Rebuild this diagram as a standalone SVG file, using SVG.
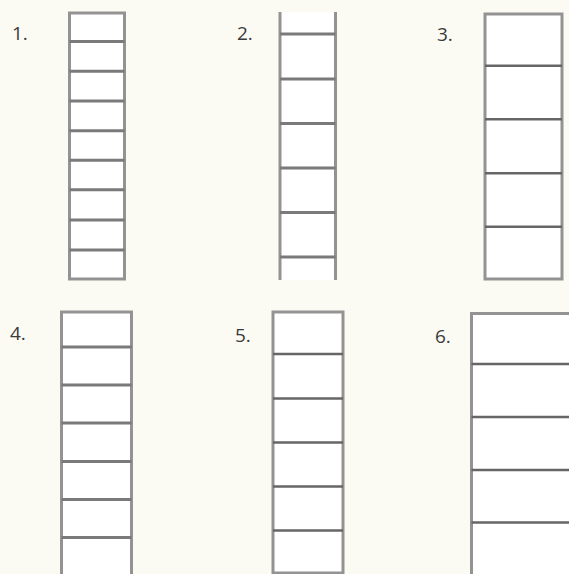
<svg xmlns="http://www.w3.org/2000/svg" width="569" height="574" viewBox="0 0 569 574">
<style>
.rail{fill:#ffffff;stroke:#939393;stroke-width:3}
.side{fill:none;stroke:#939393;stroke-width:3}
.rung{stroke:#7a7a7a;stroke-width:3}
.rung2{stroke:#666666;stroke-width:2.6}
.lbl{font-family:"Open Sans","Noto Sans","Liberation Sans",sans-serif;font-size:19px;fill:#3a3a3a}
</style>
<rect x="0" y="0" width="569" height="574" fill="#fbfaf3"/>
<g id="ladder1">
<text class="lbl" x="12" y="40">1.</text>
<rect class="rail" x="69.5" y="13" width="55" height="266"/>
<g class="rung">
<line x1="69.5" y1="41.5" x2="124.5" y2="41.5"/>
<line x1="69.5" y1="71.3" x2="124.5" y2="71.3"/>
<line x1="69.5" y1="101" x2="124.5" y2="101"/>
<line x1="69.5" y1="130.7" x2="124.5" y2="130.7"/>
<line x1="69.5" y1="160.3" x2="124.5" y2="160.3"/>
<line x1="69.5" y1="189.8" x2="124.5" y2="189.8"/>
<line x1="69.5" y1="220" x2="124.5" y2="220"/>
<line x1="69.5" y1="250" x2="124.5" y2="250"/>
</g>
</g>
<g id="ladder2">
<text class="lbl" x="237" y="40">2.</text>
<rect x="280" y="12" width="55.5" height="268" fill="#ffffff"/>
<line class="side" x1="280" y1="12" x2="280" y2="280"/>
<line class="side" x1="335.5" y1="12" x2="335.5" y2="280"/>
<g class="rung">
<line x1="280" y1="34" x2="335.5" y2="34"/>
<line x1="280" y1="79" x2="335.5" y2="79"/>
<line x1="280" y1="123.5" x2="335.5" y2="123.5"/>
<line x1="280" y1="168" x2="335.5" y2="168"/>
<line x1="280" y1="212.5" x2="335.5" y2="212.5"/>
<line x1="280" y1="257" x2="335.5" y2="257"/>
</g>
</g>
<g id="ladder3">
<text class="lbl" x="437" y="41">3.</text>
<rect class="rail" x="485" y="14" width="77" height="265"/>
<g class="rung2">
<line x1="485" y1="65.7" x2="562" y2="65.7"/>
<line x1="485" y1="119.3" x2="562" y2="119.3"/>
<line x1="485" y1="173.3" x2="562" y2="173.3"/>
<line x1="485" y1="226.7" x2="562" y2="226.7"/>
</g>
</g>
<g id="ladder4">
<text class="lbl" x="10" y="340">4.</text>
<rect class="rail" x="61.5" y="312" width="70" height="264"/>
<g class="rung">
<line x1="61.5" y1="347" x2="131.5" y2="347"/>
<line x1="61.5" y1="385" x2="131.5" y2="385"/>
<line x1="61.5" y1="423" x2="131.5" y2="423"/>
<line x1="61.5" y1="461.5" x2="131.5" y2="461.5"/>
<line x1="61.5" y1="499.5" x2="131.5" y2="499.5"/>
<line x1="61.5" y1="537.5" x2="131.5" y2="537.5"/>
</g>
</g>
<g id="ladder5">
<text class="lbl" x="235" y="342">5.</text>
<rect class="rail" x="273" y="312" width="70" height="261"/>
<g class="rung2">
<line x1="273" y1="354" x2="343" y2="354"/>
<line x1="273" y1="398.5" x2="343" y2="398.5"/>
<line x1="273" y1="442.5" x2="343" y2="442.5"/>
<line x1="273" y1="486.5" x2="343" y2="486.5"/>
<line x1="273" y1="530.5" x2="343" y2="530.5"/>
</g>
</g>
<g id="ladder6">
<text class="lbl" x="435" y="343">6.</text>
<rect class="rail" x="471.5" y="313.5" width="110" height="270"/>
<g class="rung2">
<line x1="471.5" y1="364" x2="571" y2="364"/>
<line x1="471.5" y1="417" x2="571" y2="417"/>
<line x1="471.5" y1="470" x2="571" y2="470"/>
<line x1="471.5" y1="522.5" x2="571" y2="522.5"/>
</g>
</g>
</svg>
